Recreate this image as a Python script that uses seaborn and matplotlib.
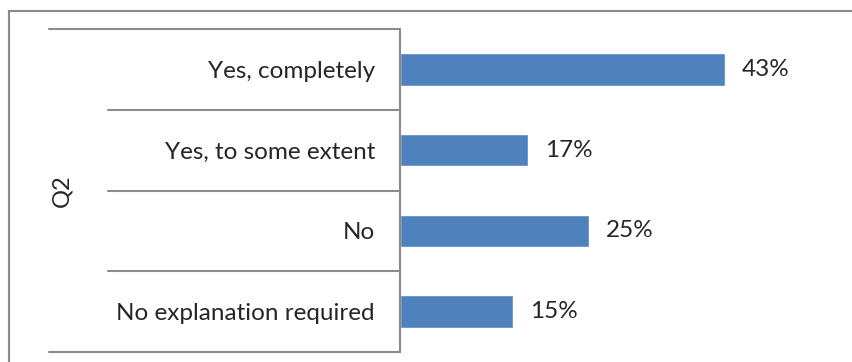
import matplotlib.pyplot as plt
import matplotlib.transforms as mtransforms
from matplotlib.patches import Rectangle
import pandas as pd
import seaborn as sns

categories = ["Yes, completely", "Yes, to some extent", "No", "No explanation required"]
values = [43, 17, 25, 15]
value_labels = ["43%", "17%", "25%", "15%"]
axis_title = "Q2"


def make_chart(fig_name="out.png"):
    sns.set_style("white")
    plt.rcParams["font.family"] = ["Lato", "DejaVu Sans"]
    data = pd.DataFrame({"answer": categories, "share": values})

    fig = plt.figure(figsize=(8.53, 3.62), dpi=100)
    ax = fig.add_axes([400 / 853, 10 / 362, 453 / 853, 323 / 362])

    sns.barplot(data=data, x="share", y="answer", orient="h", color="#4F81BD",
                saturation=1, width=0.4, ax=ax)
    ax.set_xlim(0, 60)
    ax.set_ylim(len(categories) - 0.5, -0.5)

    ax.bar_label(ax.containers[0], labels=value_labels, padding=12, fontsize=17.5)

    for side in ["top", "right", "bottom"]:
        ax.spines[side].set_visible(False)
    ax.spines["left"].set_color("#8c8c8c")
    ax.spines["left"].set_linewidth(1.5)
    ax.set_xticks([])
    ax.tick_params(axis="y", length=0, pad=18, labelsize=17.5)
    ax.set_xlabel("")
    ax.set_ylabel(axis_title, fontsize=17)
    ax.yaxis.set_label_coords(-0.724, 0.5)

    # category separators to the left of the axis
    trans = mtransforms.blended_transform_factory(fig.transFigure, ax.transData)
    n = len(categories)
    for i in range(n + 1):
        y = i - 0.5
        x0 = 49 / 853 if i in (0, n) else 108 / 853
        ax.plot([x0, 400 / 853], [y, y], color="#8c8c8c", lw=1.5,
                transform=trans, clip_on=False)

    # outer chart frame (only left and top fall inside the picture)
    fig.patches.append(Rectangle((9 / 853, -0.2), 1.2, 1.2 - 11 / 362,
                                 transform=fig.transFigure, fill=False,
                                 edgecolor="#898989", lw=1.5))

    fig.savefig(fig_name, dpi=100)
    plt.close(fig)


if __name__ == "__main__":
    make_chart()
